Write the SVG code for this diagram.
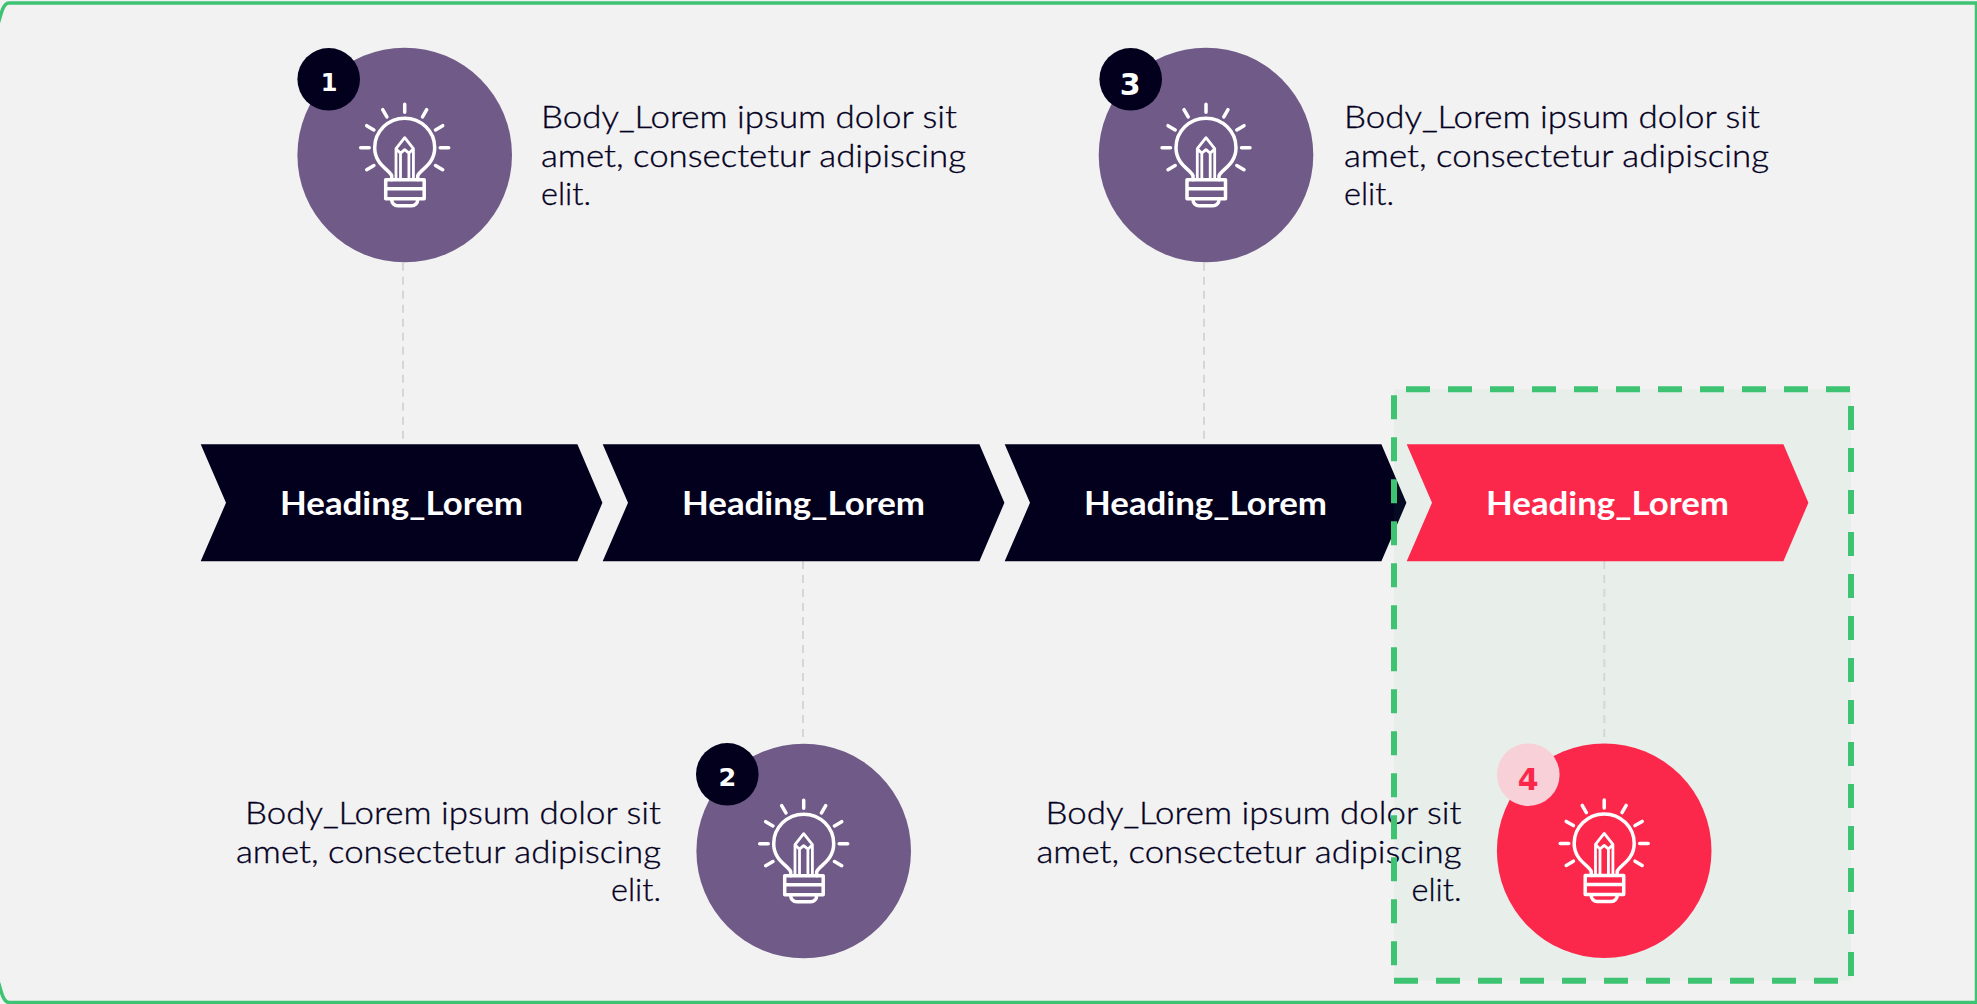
<svg xmlns="http://www.w3.org/2000/svg" width="1977" height="1004" viewBox="0 0 1977 1004">
<style>
.body{font-family:"Lato","Liberation Sans",sans-serif;font-size:32px;font-weight:300;fill:#03001e;stroke:#03001e;stroke-width:.35px}
.end{text-anchor:end}
.head{font-family:"Lato","Liberation Sans",sans-serif;font-size:32.500px;font-weight:700;fill:#fff;text-anchor:middle}
.num{font-family:"DejaVu Sans",sans-serif;font-weight:700;text-anchor:middle;fill:#fff}
.icon{fill:none;stroke:#fff;stroke-width:3.500;stroke-linecap:round;stroke-linejoin:round}
.dash{stroke:#d6d6d6;stroke-width:2;stroke-dasharray:8 6;fill:none}
.sel{stroke:#3ec373;stroke-width:6;stroke-dasharray:24 18;fill:none}
.purple{fill:#705a87}.red{fill:#fb284c}.navy{fill:#03001e}
</style>
<defs>
<g id="bulb" class="icon">
<path d="M0-35.500V-43.500M17.800-30.800L22-38M30.800-17.800L38-22M35.500 0H44M30.800 17.800L38 22M-17.800-30.800L-22-38M-30.800-17.800L-38-22M-35.500 0H-44M-30.800 17.800L-38 22"/>
<path d="M-13 32V28C-15 22-30 17-30 0A30 29.500 0 0 1 30 0C30 17 15 22 13 28V32"/>
<path stroke-width="2.800" d="M-8.700 32V1L0-10L8.700 1V32M-8.700 1L-4.200 5.500L0 2L4.200 5.500L8.700 1M-4.200 5.500V32M4.200 5.500V32"/>
<path d="M-19 32H19.500V51H-19ZM-19 41H19.500M-13 51V52A6 6 0 0 0-7 58H7A6 6 0 0 0 13 52V51"/>
</g>
<path id="chev" d="M0 0H376.700L401.700 58.500L376.700 117H0L25.300 58.500Z"/>
</defs>
<rect width="1977" height="1004" fill="#f2f2f2"/>
<g id="connectors">
<path class="dash" d="M403 262.700V444"/>
<path class="dash" d="M803 561V743"/>
<path class="dash" d="M1204 262.700V444"/>
</g>
<g id="step-1-arrow"><use href="#chev" x="200.700" y="444.300" class="navy"/><text class="head" x="401.500" y="515" textLength="243" lengthAdjust="spacingAndGlyphs">Heading_Lorem</text></g>
<g id="step-2-arrow"><use href="#chev" x="602.700" y="444.300" class="navy"/><text class="head" x="803.500" y="515" textLength="243" lengthAdjust="spacingAndGlyphs">Heading_Lorem</text></g>
<g id="step-3-arrow"><use href="#chev" x="1004.700" y="444.300" class="navy"/><text class="head" x="1205.500" y="515" textLength="243" lengthAdjust="spacingAndGlyphs">Heading_Lorem</text></g>
<rect id="selection-fill" x="1394" y="389.300" width="457" height="591.400" fill="#3ec373" fill-opacity="0.05"/>
<path class="dash" d="M1604.300 561V741"/>
<g id="step-4-arrow"><use href="#chev" x="1406.700" y="444.300" class="red"/><text class="head" x="1607.500" y="515" textLength="243" lengthAdjust="spacingAndGlyphs">Heading_Lorem</text></g>
<g id="step-1">
<circle cx="404.700" cy="155" r="107.300" class="purple"/><use href="#bulb" x="404.700" y="147.700"/>
<circle cx="328.700" cy="79.300" r="31.300" class="navy"/><text class="num" x="329" y="90.700" font-size="24">1</text>
<text class="body" x="541" y="127.700" textLength="416" lengthAdjust="spacingAndGlyphs">Body_Lorem ipsum dolor sit</text>
<text class="body" x="541" y="166.700" textLength="425" lengthAdjust="spacingAndGlyphs">amet, consectetur adipiscing</text>
<text class="body" x="541" y="205" textLength="50" lengthAdjust="spacingAndGlyphs">elit.</text>
</g>
<g id="step-2">
<circle cx="803.700" cy="851" r="107.300" class="purple"/><use href="#bulb" x="803.700" y="843.700"/>
<circle cx="727.300" cy="774.300" r="31.300" class="navy"/><text class="num" x="727.300" y="786" font-size="25.500">2</text>
<text class="body end" x="661" y="823.700" textLength="416" lengthAdjust="spacingAndGlyphs">Body_Lorem ipsum dolor sit</text>
<text class="body end" x="661" y="862.700" textLength="425" lengthAdjust="spacingAndGlyphs">amet, consectetur adipiscing</text>
<text class="body end" x="661" y="901" textLength="50" lengthAdjust="spacingAndGlyphs">elit.</text>
</g>
<g id="step-3">
<circle cx="1206" cy="155" r="107.300" class="purple"/><use href="#bulb" x="1206" y="147.700"/>
<circle cx="1130.700" cy="79.300" r="31.300" class="navy"/><text class="num" x="1130.300" y="95" font-size="30">3</text>
<text class="body" x="1344" y="127.700" textLength="416" lengthAdjust="spacingAndGlyphs">Body_Lorem ipsum dolor sit</text>
<text class="body" x="1344" y="166.700" textLength="425" lengthAdjust="spacingAndGlyphs">amet, consectetur adipiscing</text>
<text class="body" x="1344" y="205" textLength="50" lengthAdjust="spacingAndGlyphs">elit.</text>
</g>
<g id="step-4">
<circle cx="1604.200" cy="850.700" r="107.300" class="red"/><use href="#bulb" x="1604.200" y="843.400"/>
<circle cx="1528.300" cy="774.700" r="31.300" fill="#f8d0d7"/><text class="num" x="1528.300" y="790" font-size="30" style="fill:#fb284c">4</text>
<text class="body end" x="1461.500" y="823.700" textLength="416" lengthAdjust="spacingAndGlyphs">Body_Lorem ipsum dolor sit</text>
<text class="body end" x="1461.500" y="862.700" textLength="425" lengthAdjust="spacingAndGlyphs">amet, consectetur adipiscing</text>
<text class="body end" x="1461.500" y="901" textLength="50" lengthAdjust="spacingAndGlyphs">elit.</text>
</g>
<g id="selection">
<path class="sel" d="M1406 389.300H1851"/>
<path class="sel" d="M1851 406V981"/>
<path class="sel" d="M1394 980.700H1851"/>
<path class="sel" d="M1394 395.300V966"/>
</g>
<path id="frame" d="M-2 24L1 14Q4 3 9 3H1976.500V1002.500H9Q4 1002.500 1 991L-2 981" fill="none" stroke="#3ec373" stroke-width="3.500"/>
</svg>
